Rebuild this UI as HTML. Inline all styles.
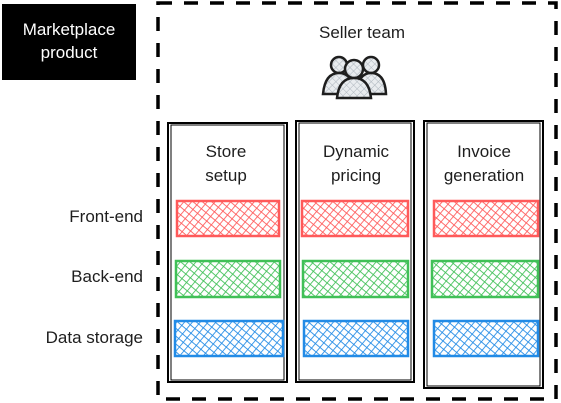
<!DOCTYPE html>
<html><head><meta charset="utf-8"><style>
html,body{margin:0;padding:0;background:#fff;}
svg{display:block}
text{font-family:"Liberation Sans",sans-serif;font-size:17px;fill:#1e1e1e}
</style></head><body>
<svg width="561" height="403" viewBox="0 0 561 403" xmlns="http://www.w3.org/2000/svg">
<defs>
<pattern id="hr" width="6" height="6" patternUnits="userSpaceOnUse" patternTransform="rotate(40)">
<rect width="6" height="6" fill="#fff"/><path d="M0 0V6M0 0H6" stroke="#ff5a5a" stroke-width="1.7"/></pattern>
<pattern id="hg" width="6" height="6" patternUnits="userSpaceOnUse" patternTransform="rotate(40)">
<rect width="6" height="6" fill="#fff"/><path d="M0 0V6M0 0H6" stroke="#40c057" stroke-width="1.7"/></pattern>
<pattern id="hb" width="6" height="6" patternUnits="userSpaceOnUse" patternTransform="rotate(40)">
<rect width="6" height="6" fill="#fff"/><path d="M0 0V6M0 0H6" stroke="#228be6" stroke-width="1.7"/></pattern>
<pattern id="hx" width="5" height="5" patternUnits="userSpaceOnUse" patternTransform="rotate(45)">
<rect width="5" height="5" fill="#e9ecef"/><path d="M0 0V5M0 0H5" stroke="#adb5bd" stroke-width="1"/></pattern>
</defs>
<rect x="2" y="4" width="134" height="76" fill="#000"/>
<text x="69" y="35" text-anchor="middle" style="fill:#fff">Marketplace</text>
<text x="69" y="58" text-anchor="middle" style="fill:#fff">product</text>
<rect x="158" y="3" width="398" height="396" fill="none" stroke="#000" stroke-width="3.5" stroke-dasharray="14 12"/>
<text x="362" y="38" text-anchor="middle">Seller team</text>
<g stroke="#1e1e1e" stroke-width="2.5" fill="url(#hx)">
<circle cx="339" cy="65" r="8"/><path d="M323 94 Q325 73 339 73 Q353 73 354 94 Z"/>
<circle cx="371" cy="65" r="8"/><path d="M356 94 Q358 73 371 73 Q385 73 386 94 Z"/>
<circle cx="354" cy="69" r="9"/><path d="M337 98 Q339 78 354 78 Q369 78 371 98 Z"/>
</g>
<g fill="none" stroke="#000" stroke-width="2">
<rect x="168" y="123" width="119" height="259"/><rect x="171" y="125" width="113" height="255" stroke-width="1"/>
<rect x="296" y="121" width="118" height="261"/><rect x="299" y="123" width="112" height="257" stroke-width="1"/>
<rect x="424" y="121" width="119" height="267"/><rect x="427" y="123" width="113" height="263" stroke-width="1"/>
</g>
<text x="226" y="157" text-anchor="middle">Store</text><text x="226" y="181" text-anchor="middle">setup</text>
<text x="356" y="157" text-anchor="middle">Dynamic</text><text x="356" y="181" text-anchor="middle">pricing</text>
<text x="484" y="157" text-anchor="middle">Invoice</text><text x="484" y="181" text-anchor="middle">generation</text>
<g stroke-width="2.5">
<rect x="177" y="201" width="102" height="35" fill="url(#hr)" stroke="#ff5a5a"/>
<rect x="302" y="201" width="106" height="35" fill="url(#hr)" stroke="#ff5a5a"/>
<rect x="434" y="201" width="104" height="35" fill="url(#hr)" stroke="#ff5a5a"/>
<rect x="176" y="261" width="104" height="36" fill="url(#hg)" stroke="#40c057"/>
<rect x="303" y="261" width="105" height="36" fill="url(#hg)" stroke="#40c057"/>
<rect x="432" y="261" width="106" height="36" fill="url(#hg)" stroke="#40c057"/>
<rect x="175" y="321" width="108" height="35" fill="url(#hb)" stroke="#228be6"/>
<rect x="304" y="321" width="104" height="35" fill="url(#hb)" stroke="#228be6"/>
<rect x="434" y="321" width="104" height="35" fill="url(#hb)" stroke="#228be6"/>
</g>
<text x="143" y="222" text-anchor="end">Front-end</text>
<text x="143" y="282" text-anchor="end">Back-end</text>
<text x="143" y="343" text-anchor="end">Data storage</text>
</svg>
</body></html>
